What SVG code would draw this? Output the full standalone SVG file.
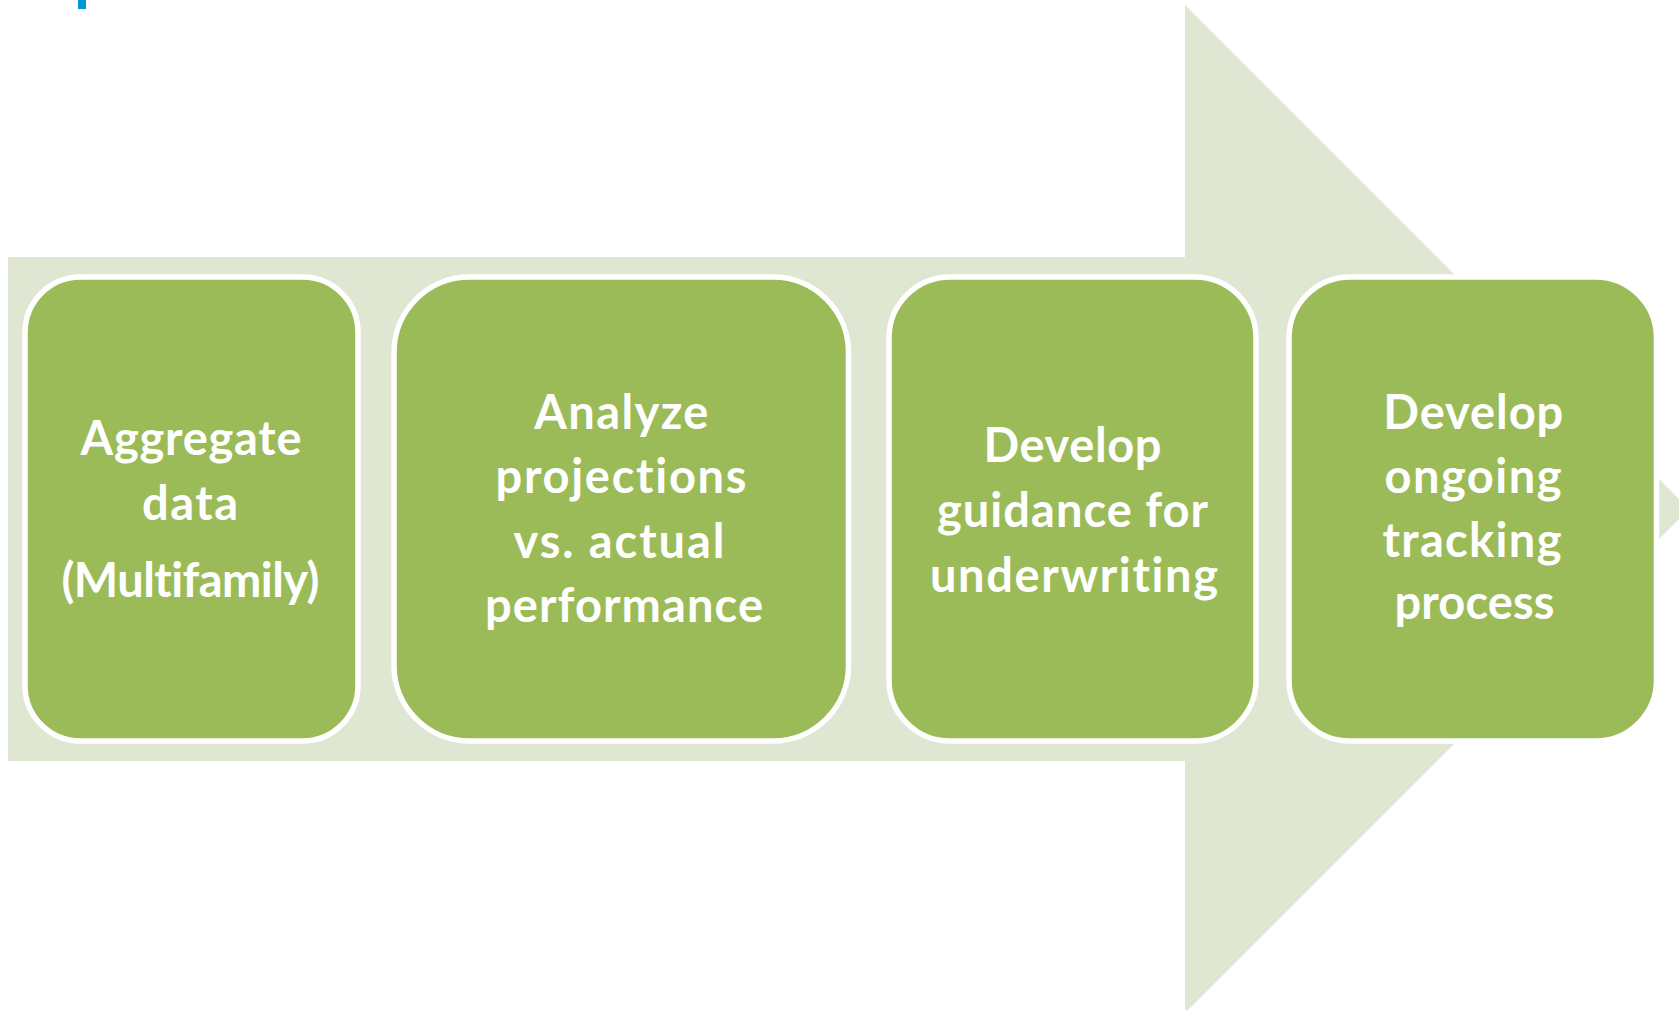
<svg xmlns="http://www.w3.org/2000/svg" width="1679" height="1010" viewBox="0 0 1679 1010">
  <style>
    .box { fill: #9BBB59; stroke: #FFFFFF; stroke-width: 5.5; }
    .lbl { fill: #FFFFFF; font-family: Lato, "Open Sans", "Liberation Sans", sans-serif; font-weight: 700; font-size: 47px; text-anchor: middle; font-variant-ligatures: none; font-feature-settings: "liga" 0, "clig" 0; }
  </style>
  <rect x="0" y="0" width="1679" height="1010" fill="#FFFFFF"/>
  <rect x="78" y="0" width="8" height="9" fill="#0096DB"/>
  <g id="connectors">
    <polygon id="process-arrow" points="8,257 1185,257 1185,5 1689,509 1185,1013 1185,761 8,761" fill="#DFE7D2"/>
  </g>
  <g id="node1">
    <rect class="box" x="25" y="277" width="333" height="464" rx="55.5" ry="55.5"/>
    <text class="lbl" x="191" y="455" textLength="221" lengthAdjust="spacing">Aggregate</text>
    <text class="lbl" x="190" y="520" textLength="96" lengthAdjust="spacing">data</text>
    <text class="lbl" x="190.5" y="597" textLength="258" lengthAdjust="spacing">(Multifamily)</text>
  </g>
  <g id="node2">
    <rect class="box" x="394" y="277" width="454.5" height="464" rx="75.5" ry="75.5"/>
    <text class="lbl" x="621.3" y="429" textLength="174" lengthAdjust="spacing">Analyze</text>
    <text class="lbl" x="621" y="493" textLength="251" lengthAdjust="spacing">projections</text>
    <text class="lbl" x="619" y="558" textLength="211" lengthAdjust="spacing">vs. actual</text>
    <text class="lbl" x="624" y="622" textLength="278" lengthAdjust="spacing">performance</text>
  </g>
  <g id="node3">
    <rect class="box" x="889" y="277" width="367" height="464" rx="61" ry="61"/>
    <text class="lbl" x="1072.5" y="462" textLength="178" lengthAdjust="spacing">Develop</text>
    <text class="lbl" x="1072.5" y="527" textLength="271" lengthAdjust="spacing">guidance for</text>
    <text class="lbl" x="1074" y="592" textLength="288" lengthAdjust="spacing">underwriting</text>
  </g>
  <g id="node4">
    <rect class="box" x="1289" y="277" width="367.5" height="464" rx="61" ry="61"/>
    <text class="lbl" x="1473.3" y="429" textLength="180" lengthAdjust="spacing">Develop</text>
    <text class="lbl" x="1473" y="493" textLength="177" lengthAdjust="spacing">ongoing</text>
    <text class="lbl" x="1472" y="557" textLength="179" lengthAdjust="spacing">tracking</text>
    <text class="lbl" x="1474.5" y="619" textLength="160" lengthAdjust="spacing">process</text>
  </g>
</svg>
